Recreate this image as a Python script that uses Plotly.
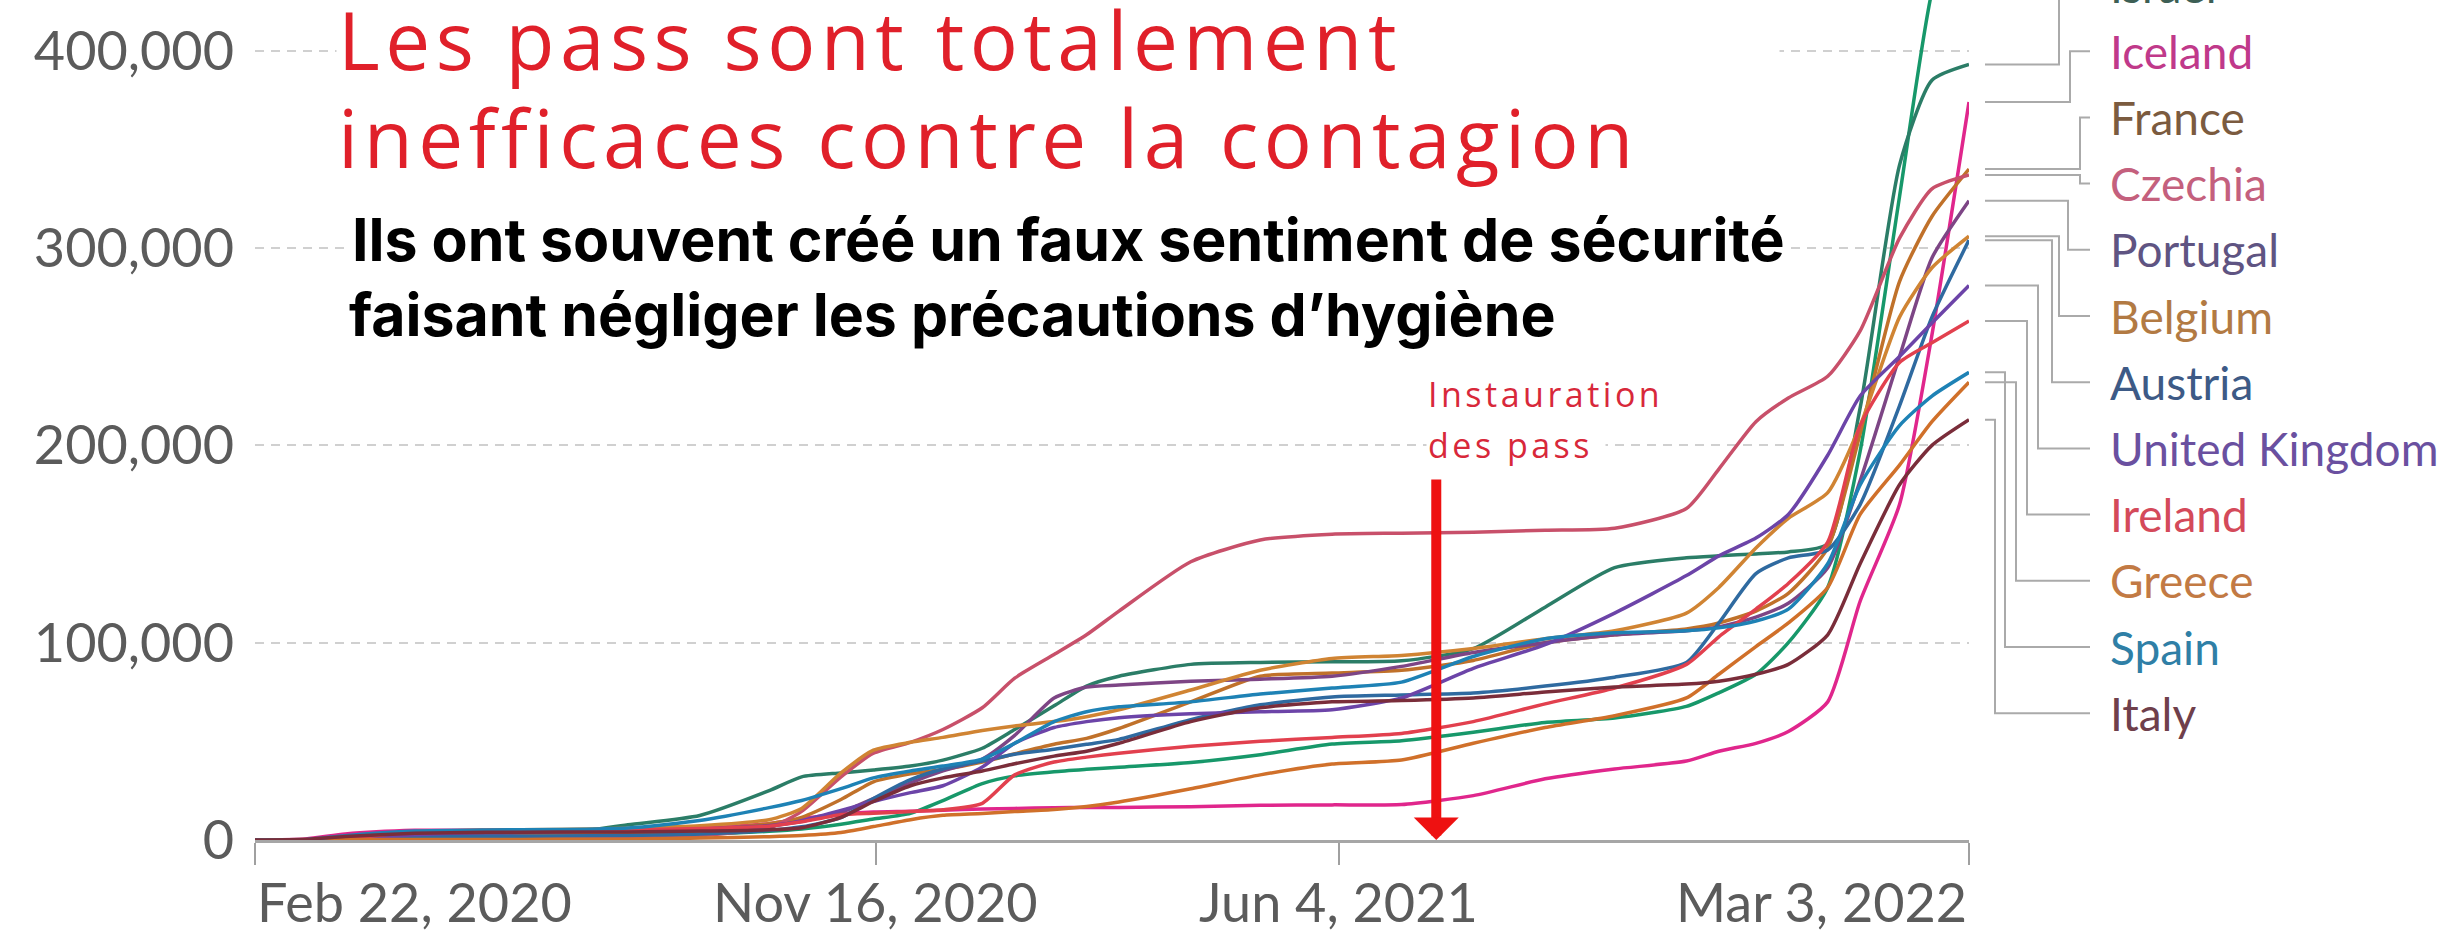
import plotly.graph_objects as go

# Cas confirmés cumulés de COVID-19 par million d'habitants (en milliers)
DATES = ["2020-02-22", "2020-03-15", "2020-04-01", "2020-05-01", "2020-06-01", "2020-07-01",
         "2020-08-01", "2020-09-01", "2020-10-01", "2020-10-15", "2020-11-01", "2020-11-15",
         "2020-12-01", "2020-12-15", "2021-01-01", "2021-01-15", "2021-02-01", "2021-02-15",
         "2021-03-01", "2021-04-01", "2021-05-01", "2021-06-01", "2021-07-01", "2021-08-01",
         "2021-09-01", "2021-10-01", "2021-11-01", "2021-11-15", "2021-12-01", "2021-12-15",
         "2022-01-01", "2022-01-15", "2022-02-01", "2022-02-15", "2022-03-03"]

denmark = [0, 0.15, 0.5, 1.6, 2.0, 2.2, 2.3, 2.9, 4.4, 5.6, 8.0, 10.6, 13.5, 20.0, 28.6, 32.5, 34.6, 35.8,
           36.9, 39.3, 43.2, 48.6, 50.3, 54.6, 59.6, 61.8, 67.7, 74.6, 84.0, 100.0, 128.0, 197.0, 326.0, 430.0, 490.0]
israel = [0, 0.03, 0.7, 1.7, 1.8, 2.8, 7.7, 12.4, 25.0, 32.0, 34.0, 35.5, 37.5, 40.5, 46.5, 56.0, 68.0, 78.0,
          83.0, 89.0, 90.0, 90.3, 90.8, 97.0, 118.0, 138.0, 143.0, 144.0, 145.0, 146.0, 150.0, 219.0, 342.0, 385.0, 393.0]
iceland = [0, 0.5, 3.1, 4.9, 4.9, 5.0, 5.1, 5.8, 8.3, 10.8, 13.3, 14.2, 14.6, 15.1, 15.7, 16.0, 16.4, 16.5,
           16.5, 16.9, 17.6, 17.8, 18.0, 22.5, 31.0, 36.0, 40.0, 45.0, 49.0, 55.0, 70.0, 121.0, 170.0, 256.0, 374.0]
france = [0, 0.08, 0.8, 2.5, 2.8, 3.0, 3.3, 4.6, 8.3, 11.5, 20.5, 29.5, 33.5, 35.7, 39.5, 43.7, 48.5, 51.5,
          56.5, 70.0, 83.0, 84.6, 86.0, 91.0, 100.0, 104.0, 107.0, 110.0, 116.0, 125.0, 148.0, 206.0, 283.0, 316.0, 340.0]
czechia = [0, 0.03, 0.3, 0.7, 0.85, 1.1, 1.5, 2.2, 6.2, 14.5, 32.0, 44.0, 49.5, 56.0, 67.0, 82.0, 94.0, 104.0,
           116.0, 141.0, 152.0, 155.0, 155.5, 156.0, 157.0, 158.0, 168.0, 188.0, 212.0, 224.0, 235.0, 258.0, 305.0, 330.0, 337.0]
portugal = [0, 0.03, 0.8, 2.5, 3.2, 4.1, 5.0, 5.8, 7.3, 9.4, 14.0, 21.0, 29.0, 35.0, 41.0, 53.0, 72.0, 77.5,
            78.5, 80.5, 81.5, 83.0, 88.0, 95.0, 100.0, 104.0, 106.0, 108.0, 113.0, 120.0, 138.0, 182.0, 245.0, 295.0, 324.0]
belgium = [0, 0.06, 1.1, 4.2, 5.0, 5.3, 6.0, 7.2, 10.3, 16.0, 34.0, 45.5, 49.5, 52.0, 55.5, 57.8, 60.0, 62.5,
           66.0, 76.0, 86.0, 92.0, 93.5, 97.0, 102.0, 106.0, 115.0, 128.0, 148.0, 163.0, 176.0, 210.0, 265.0, 290.0, 306.0]
austria = [0, 0.1, 1.2, 1.7, 1.9, 2.0, 2.3, 3.0, 4.9, 6.7, 11.3, 21.0, 30.6, 36.0, 40.0, 43.5, 46.0, 48.5,
           51.0, 61.0, 68.5, 72.5, 73.5, 74.5, 78.0, 82.5, 90.0, 110.0, 135.0, 143.0, 147.0, 170.0, 220.0, 265.0, 304.0]
united_kingdom = [0, 0.02, 0.4, 2.6, 4.0, 4.6, 4.9, 5.1, 6.9, 9.8, 15.0, 19.5, 24.0, 27.5, 37.0, 49.0, 57.0, 60.0,
                  62.0, 64.0, 65.0, 66.0, 72.0, 87.0, 99.0, 115.0, 134.0, 144.0, 153.0, 165.0, 195.0, 225.0, 245.0, 262.0, 281.0]
ireland = [0, 0.03, 0.7, 4.2, 5.0, 5.1, 5.3, 5.8, 7.0, 9.2, 12.8, 13.6, 14.4, 15.3, 18.6, 33.0, 39.5, 42.0,
           44.0, 47.5, 50.0, 52.0, 54.0, 60.0, 69.0, 77.0, 89.0, 103.0, 117.0, 130.0, 151.0, 210.0, 242.0, 252.0, 263.0]
greece = [0, 0.02, 0.13, 0.25, 0.28, 0.33, 0.43, 0.97, 1.7, 2.3, 3.8, 6.8, 10.3, 12.5, 13.4, 14.4, 15.5, 17.0,
          19.3, 26.0, 33.0, 38.5, 40.5, 49.0, 57.0, 63.0, 72.0, 84.0, 98.0, 110.0, 128.0, 165.0, 190.0, 212.0, 232.0]
spain = [0, 0.17, 2.2, 4.5, 5.1, 5.3, 6.1, 9.9, 16.4, 20.0, 26.0, 31.5, 35.0, 37.5, 41.0, 49.0, 60.0, 65.0,
         67.5, 70.0, 74.0, 77.0, 80.0, 93.0, 102.0, 105.0, 106.0, 107.5, 111.0, 117.0, 140.0, 180.0, 210.0, 225.0, 237.0]
italy = [0, 0.4, 1.8, 3.4, 3.9, 4.0, 4.1, 4.5, 5.2, 6.2, 11.5, 19.5, 27.5, 31.5, 35.0, 38.6, 42.5, 45.0,
         49.0, 60.0, 67.0, 70.0, 70.7, 72.0, 75.0, 77.5, 79.0, 80.5, 84.0, 89.0, 104.0, 140.0, 180.0, 200.0, 213.0]

series = {
    "Denmark": denmark, "Israel": israel, "Iceland": iceland, "France": france, "Czechia": czechia,
    "Portugal": portugal, "Belgium": belgium, "Austria": austria, "United Kingdom": united_kingdom,
    "Ireland": ireland, "Greece": greece, "Spain": spain, "Italy": italy,
}

line_colors = {
    "Denmark": "#17986a", "Israel": "#2b7d67", "Iceland": "#e0268c", "France": "#c0712a",
    "Czechia": "#c8506a", "Portugal": "#7d4585", "Belgium": "#d08433", "Austria": "#2f6aa0",
    "United Kingdom": "#6c44a8", "Ireland": "#e2404e", "Greece": "#d0702a", "Spain": "#1e82b5",
    "Italy": "#7a2d3a",
}
label_colors = {
    "Israel": "#3d5f55", "Iceland": "#c0398a", "France": "#7b5b3f", "Czechia": "#c4607d",
    "Portugal": "#5f5482", "Belgium": "#b27a43", "Austria": "#3d5a86", "United Kingdom": "#6a50a0",
    "Ireland": "#d44a5a", "Greece": "#c27a44", "Spain": "#2f7fa6", "Italy": "#6f3f4b",
}

# étiquettes à droite, de haut en bas, et coude de chaque trait de rappel (px après la fin des lignes)
labelled = ["Israel", "Iceland", "France", "Czechia", "Portugal", "Belgium", "Austria",
            "United Kingdom", "Ireland", "Greece", "Spain", "Italy"]
elbows = [90, 101, 111, 111, 99, 90, 83, 69, 58, 47, 36, 26]

x_ticks = ["2020-02-22", "2020-11-16", "2021-06-04", "2022-03-03"]
x_tick_labels = ["Feb 22, 2020", "Nov 16, 2020", "Jun 4, 2021", "Mar 3, 2022"]
y_ticks = [0, 100, 200, 300, 400]
y_tick_labels = ["0", "100,000", "200,000", "300,000", "400,000"]
PASS_DATE = "2021-07-16"

TITLE = ["Les pass sont totalement", "inefficaces contre la contagion"]
SUBTITLE = ["Ils ont souvent créé un faux sentiment de sécurité", "faisant négliger les précautions d’hygiène"]
PASS_NOTE = ["Instauration", "des pass"]

W, H = 2445, 937
L, R, T, B = 255, 476, 0, 97
PW, PH = W - L - R, H - T - B
YMAX = 425.7

def fx(px):
    return (px - L) / PW

def fy(py):
    return (PH - py) / PH

fig = go.Figure()
for name, vals in series.items():
    fig.add_trace(go.Scatter(x=DATES, y=vals, mode="lines", name=name,
                             line=dict(color=line_colors[name], width=3.5, shape="spline", smoothing=0.6),
                             hoverinfo="skip", showlegend=False))

ann = []
shapes = []
# titre rouge
title_font = dict(family="Open Sans", size=80, color="#e0202a")
ann.append(dict(text=TITLE[0], x=fx(336), y=fy(39), xref="paper", yref="paper",
                xanchor="left", yanchor="middle", showarrow=False, align="left", width=1440,
                bgcolor="white", font=title_font))
ann.append(dict(text=TITLE[1], x=fx(336), y=fy(137), xref="paper", yref="paper",
                xanchor="left", yanchor="middle", showarrow=False, align="left", width=1440,
                font=title_font))
# sous-titre noir
sub_font = dict(family="Inter", size=59, color="black", weight=700)
ann.append(dict(text=SUBTITLE[0], x=fx(350), y=fy(239), xref="paper", yref="paper",
                xanchor="left", yanchor="middle", showarrow=False, bgcolor="white", font=sub_font))
ann.append(dict(text=SUBTITLE[1], x=fx(347), y=fy(314), xref="paper", yref="paper",
                xanchor="left", yanchor="middle", showarrow=False, bgcolor="white", font=sub_font))
# instauration des pass
note_font = dict(family="Open Sans", size=34, color="#d8283a")
ann.append(dict(text=PASS_NOTE[0], x=fx(1426), y=fy(394), xref="paper", yref="paper",
                xanchor="left", yanchor="middle", showarrow=False, align="left", width=250,
                font=note_font))
ann.append(dict(text=PASS_NOTE[1], x=fx(1426), y=fy(445), xref="paper", yref="paper",
                xanchor="left", yanchor="middle", showarrow=False, bgcolor="white", width=176,
                align="left", font=note_font))
ann.append(dict(text="", x=PASS_DATE, y=0, xref="x", yref="y", ax=0, ay=-362, axref="pixel", ayref="pixel",
                showarrow=True, arrowhead=1, arrowsize=0.75, arrowwidth=10, arrowcolor="#ee1111"))

# étiquettes de l'axe x
anchors = ["left", "center", "center", "right"]
for d, t, a in zip(x_ticks, x_tick_labels, anchors):
    ann.append(dict(text=t, x=d, y=fy(901), xref="x", yref="paper", xanchor=a, yanchor="middle",
                    showarrow=False, font=dict(family="Lato", size=54, color="#5b5b5b")))

# étiquettes des pays et traits de rappel
LABEL_TOP, LABEL_STEP = -15, 66.2
for i, name in enumerate(labelled):
    ly = fy(LABEL_TOP + i * LABEL_STEP)
    ann.append(dict(text=name, x=1, xshift=139, y=ly, xref="paper", yref="paper", xanchor="left",
                    yanchor="middle", showarrow=False,
                    font=dict(family="Lato", size=46, color=label_colors[name])))
    y0 = series[name][-1] / YMAX
    e = elbows[i]
    shapes.append(dict(type="path", xref="paper", yref="paper", xsizemode="pixel", xanchor=1,
                       path=f"M16,{y0} L{e},{y0} L{e},{ly} L121,{ly}",
                       line=dict(color="#aaaaaa", width=2)))

fig.update_layout(
    width=W, height=H, margin=dict(l=L, r=R, t=T, b=B),
    paper_bgcolor="white", plot_bgcolor="white",
    annotations=ann, shapes=shapes,
    xaxis=dict(range=[x_ticks[0], x_ticks[-1]], tickvals=x_ticks, showticklabels=False,
               ticks="outside", ticklen=22, tickwidth=2, tickcolor="#a0a0a0",
               showgrid=False, showline=True, linecolor="#a6a6a6", linewidth=3, zeroline=False),
    yaxis=dict(range=[0, YMAX], tickvals=y_ticks, ticktext=y_tick_labels,
               tickfont=dict(family="Lato", size=54, color="#5b5b5b"), ticklabelstandoff=20,
               showgrid=True, gridcolor="#d0d0d0", gridwidth=2, griddash="9px,7px",
               zeroline=False, showline=False),
)

# le texte de l'image d'origine est plus espacé que les polices disponibles
spacing_js = """
document.body.style.margin = '0';
var sp = {'Les pass sont totalement': '5.5px', 'inefficaces contre la contagion': '5.5px',
          'Instauration': '3.5px', 'des pass': '3.5px'};
document.querySelectorAll('.annotation-text').forEach(function (t) {
    var v = sp[t.textContent];
    if (v) { t.style.letterSpacing = v; }
});
"""

fig.write_html("out.html", config={"displayModeBar": False}, post_script=spacing_js)
